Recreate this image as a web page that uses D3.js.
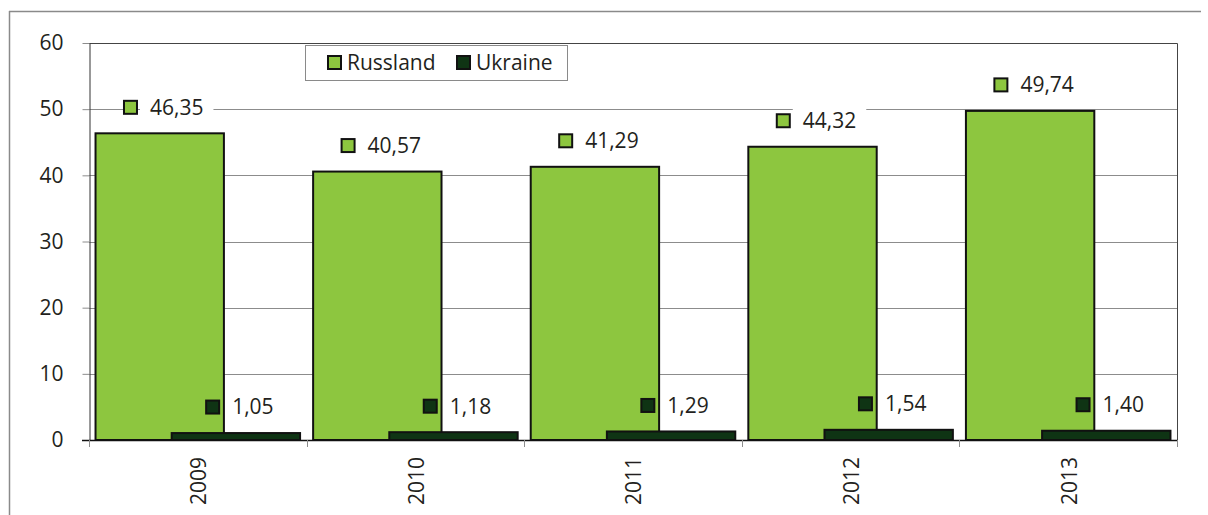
<!DOCTYPE html>
<html>
<head>
<meta charset="utf-8">
<script src="https://cdn.jsdelivr.net/npm/d3@7"></script>
<style>
  html, body { margin: 0; background: #fff; overflow: hidden; }
  svg { display: block; }
  text { font-family: "Open Sans", sans-serif; fill: #231f20; }
</style>
</head>
<body>
<div id="chart"></div>
<script>
const years = ["2009", "2010", "2011", "2012", "2013"];
const russland = [46.35, 40.57, 41.29, 44.32, 49.74];
const ukraine = [1.05, 1.18, 1.29, 1.54, 1.40];
const yTicks = [0, 10, 20, 30, 40, 50, 60];
const seriesNames = ["Russland", "Ukraine"];
const seriesColors = ["#8dc63f", "#0f3414"];

const width = 1208;
const height = 515;
const plotLeft = 89, plotRight = 1177, plotTop = 43, plotBottom = 440;
const fontSize = "21px";

const svg = d3.select("#chart").append("svg")
  .attr("width", width).attr("height", height);

// outer frame of the chart: only the left and top edges fall inside the picture
svg.append("line")
  .attr("x1", 9.5).attr("x2", 9.5).attr("y1", 11).attr("y2", height)
  .attr("stroke", "#8a8a8a").attr("stroke-width", 1.5);
svg.append("line")
  .attr("x1", 9).attr("x2", 1201).attr("y1", 11.5).attr("y2", 11.5)
  .attr("stroke", "#8a8a8a").attr("stroke-width", 1.5);

const x = d3.scaleBand().domain(years).range([plotLeft, plotRight]).padding(0);
const y = d3.scaleLinear().domain([0, 60]).range([plotBottom, plotTop]);

const de = d3.formatLocale({ decimal: ",", thousands: ".", grouping: [3], currency: ["", " €"] });
const fmt = de.format(".2f");

// gridlines
svg.append("g").selectAll("line")
  .data(yTicks.filter(d => d > 0 && d < 60))
  .join("line")
  .attr("x1", plotLeft).attr("x2", plotRight)
  .attr("y1", d => Math.round(y(d)) + 0.5).attr("y2", d => Math.round(y(d)) + 0.5)
  .attr("stroke", "#8c8c8c");

// plot area border top / right
svg.append("path")
  .attr("d", `M${plotLeft},${Math.round(y(60)) + 0.5}H${plotRight + 0.5}V${plotBottom}`)
  .attr("fill", "none").attr("stroke", "#444");

const bw = x.bandwidth();
const gap = bw * 0.03, barW = bw * 0.59, shift = bw * 0.35;

const data = years.map((yr, i) => ({ yr, r: russland[i], u: ukraine[i] }));

// label layers: backgrounds go under the bars, text and markers above
const labelBg = svg.append("g");
const barLayer = svg.append("g");
const axisLayer = svg.append("g");
const labelFg = svg.append("g");

barLayer.append("g").selectAll("rect")
  .data(data).join("rect")
  .attr("x", d => x(d.yr) + gap)
  .attr("y", d => y(d.r))
  .attr("width", barW)
  .attr("height", d => plotBottom - y(d.r))
  .attr("fill", seriesColors[0]).attr("stroke", "#111").attr("stroke-width", 2);

barLayer.append("g").selectAll("rect")
  .data(data).join("rect")
  .attr("x", d => x(d.yr) + gap + shift)
  .attr("y", d => y(d.u))
  .attr("width", barW)
  .attr("height", d => plotBottom - y(d.u))
  .attr("fill", seriesColors[1]).attr("stroke", "#111").attr("stroke-width", 2);

// y axis
const yAxis = axisLayer.append("g")
  .attr("transform", `translate(${plotLeft + 0.5},0)`)
  .call(d3.axisLeft(y).tickValues(yTicks).tickSize(7).tickPadding(19).tickSizeOuter(0));
yAxis.select(".domain").attr("stroke", "#333");
yAxis.selectAll(".tick line").attr("stroke", "#8c8c8c");
yAxis.selectAll(".tick text").style("font-size", fontSize).attr("fill", "#231f20");

// x axis
const xAxis = axisLayer.append("g")
  .attr("transform", `translate(0,${plotBottom + 0.5})`)
  .call(d3.axisBottom(x).tickSize(0).tickSizeOuter(0).tickFormat(""));
xAxis.select(".domain").attr("stroke", "#111").attr("stroke-width", 1.5)
  .attr("d", `M${plotLeft - 7},0H${plotRight + 0.5}`);
axisLayer.append("g").selectAll("line")
  .data(d3.range(years.length + 1))
  .join("line")
  .attr("x1", i => Math.round(plotLeft + i * bw) + 0.5)
  .attr("x2", i => Math.round(plotLeft + i * bw) + 0.5)
  .attr("y1", plotBottom).attr("y2", plotBottom + 7)
  .attr("stroke", "#8c8c8c");

axisLayer.append("g").selectAll("text")
  .data(years).join("text")
  .attr("transform", d => `translate(${x(d) + bw / 2 + 1},457) rotate(-90)`)
  .attr("text-anchor", "end")
  .attr("dy", "0.35em")
  .style("font-size", fontSize)
  .text(d => d);

// data labels
function addLabels(values, color, xOff) {
  values.forEach((v, i) => {
    const cx = x(years[i]) + xOff + barW / 2 + 4;
    const cy = y(v) - 26;
    const t = labelFg.append("text")
      .attr("y", cy).attr("dy", "0.35em")
      .style("font-size", fontSize)
      .text(fmt(v));
    const tw = t.node().getComputedTextLength();
    const total = 13 + 13 + tw;
    const x0 = cx - total / 2;
    t.attr("x", x0 + 26);
    labelBg.append("rect")
      .attr("x", x0 + 16).attr("y", cy - 12)
      .attr("width", tw + 20).attr("height", 24)
      .attr("fill", "#fff");
    labelFg.append("rect")
      .attr("x", x0).attr("y", cy - 6.5).attr("width", 13).attr("height", 13)
      .attr("fill", color).attr("stroke", "#111").attr("stroke-width", 2);
  });
}
addLabels(russland, seriesColors[0], gap);
addLabels(ukraine, seriesColors[1], gap + shift);

// legend
const legend = svg.append("g");
legend.append("rect")
  .attr("x", 305.5).attr("y", 45.5).attr("width", 262).attr("height", 35)
  .attr("fill", "#fff").attr("stroke", "#8a8a8a");
const legendX = [328, 457];
seriesNames.forEach((name, i) => {
  legend.append("rect")
    .attr("x", legendX[i]).attr("y", 56).attr("width", 13).attr("height", 13)
    .attr("fill", seriesColors[i]).attr("stroke", "#111").attr("stroke-width", 2);
  legend.append("text")
    .attr("x", legendX[i] + 19).attr("y", 62.5).attr("dy", "0.35em")
    .style("font-size", fontSize)
    .text(name);
});
</script>
</body>
</html>
